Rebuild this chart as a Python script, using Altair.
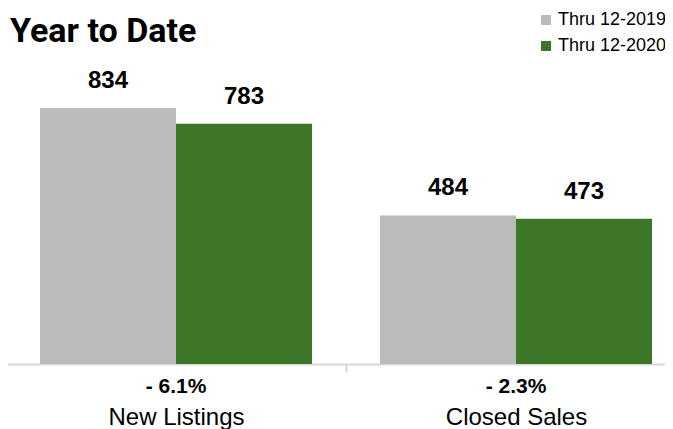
import altair as alt
import pandas as pd

categories = ["New Listings", "Closed Sales"]
series = ["Thru 12-2019", "Thru 12-2020"]
values_2019 = [834, 484]
values_2020 = [783, 473]
pct_change = ["- 6.1%", "- 2.3%"]
colors = ["#bbbbbb", "#3e7627"]
title_text = "Year to Date"

rows = []
for i, c in enumerate(categories):
    rows.append({"cat": c, "series": series[0], "value": values_2019[i]})
    rows.append({"cat": c, "series": series[1], "value": values_2020[i]})
df = pd.DataFrame(rows)
df_pct = pd.DataFrame({"cat": categories, "pct": pct_change})

FONT = "Liberation Sans, Arial, Helvetica"

x = alt.X(
    "cat:N",
    sort=categories,
    scale=alt.Scale(range=[-2, 678], paddingInner=0.2, paddingOuter=0.1),
    axis=alt.Axis(
        title=None,
        domainColor="#d9d9d9",
        domainWidth=2,
        tickColor="#d9d9d9",
        tickWidth=2,
        tickSize=8,
        tickOffset=-170,
        labelOffset=170,
        tickExtra=True,
        labelFontSize=24,
        labelFont=FONT,
        labelColor="#000000",
        labelBaseline="alphabetic",
        labelPadding=52,
        labelAngle=0,
        grid=False,
    ),
)
y = alt.Y(
    "value:Q",
    scale=alt.Scale(domain=[0, 1160], nice=False, zero=True),
    axis=None,
)

base = alt.Chart(df)

bars = base.mark_bar(size=136).encode(
    x=x,
    xOffset=alt.XOffset("series:N", sort=series),
    y=y,
    color=alt.Color(
        "series:N",
        sort=series,
        scale=alt.Scale(domain=series, range=colors),
        legend=alt.Legend(
            title=None,
            orient="none",
            legendX=529,
            legendY=3,
            symbolType="square",
            symbolSize=100,
            symbolStrokeWidth=0,
            labelFontSize=18,
            labelFont=FONT,
            labelColor="#000000",
            labelOffset=3,
            rowPadding=8,
        ),
    ),
)

labels = base.mark_text(
    fontSize=24, fontWeight="bold", font=FONT, baseline="alphabetic", dy=-20, color="#000000"
).encode(
    x=alt.X("cat:N", sort=categories),
    xOffset=alt.XOffset("series:N", sort=series),
    y=alt.Y("value:Q", axis=None),
    text="value:Q",
)

pct = alt.Chart(df_pct).mark_text(
    fontSize=21, fontWeight="bold", font=FONT, baseline="alphabetic", dy=29, color="#000000"
).encode(
    x=alt.X("cat:N", sort=categories),
    y=alt.datum(0),
    text="pct:N",
)

title = alt.Chart(pd.DataFrame({"t": [title_text]})).mark_text(
    font="Roboto",
    fontSize=34,
    fontWeight="bold",
    color="#000000",
    align="left",
    baseline="alphabetic",
).encode(
    x=alt.value(2),
    y=alt.value(34),
    text="t:N",
)

chart = (
    alt.layer(bars, labels, pct, title)
    .properties(
        width=657,
        height=356,
        padding={"left": 0, "top": 0, "right": 0, "bottom": 65},
        autosize=alt.AutoSizeParams(type="none"),
        view=alt.ViewBackground(strokeOpacity=0, strokeWidth=0),
    )
    .configure_view(strokeWidth=0, strokeOpacity=0)
    .configure(background="#ffffff")
)

chart.save("out.html", embed_options={"renderer": "svg", "actions": False})
